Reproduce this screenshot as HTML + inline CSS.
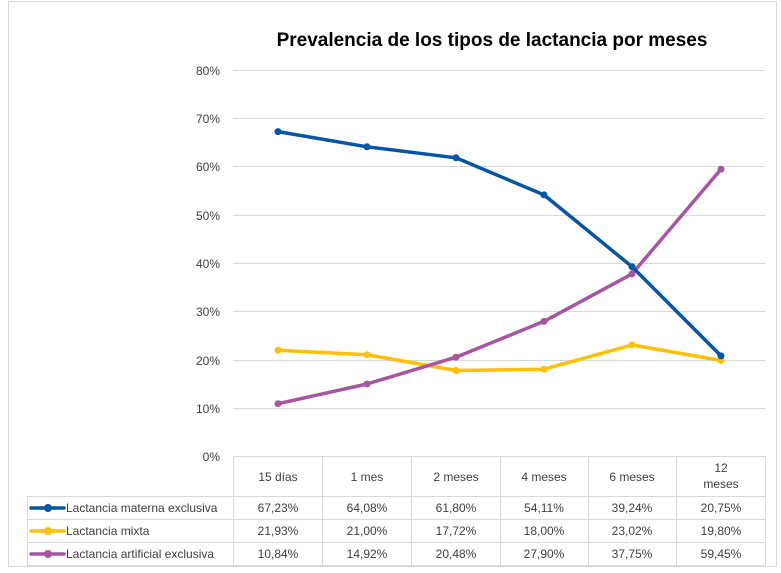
<!DOCTYPE html>
<html><head><meta charset="utf-8"><style>body{margin:0;background:#fff}svg{display:block}text{font-family:"Liberation Sans",sans-serif}</style></head><body>
<svg width="781" height="573" viewBox="0 0 781 573" xmlns="http://www.w3.org/2000/svg">
<rect x="0" y="0" width="781" height="573" fill="#fff"/>
<rect x="8.5" y="1.5" width="768" height="565" fill="none" stroke="#d9d9d9"/>
<text x="492" y="46" font-size="19" font-weight="bold" text-anchor="middle" fill="#000">Prevalencia de los tipos de lactancia por meses</text>
<g stroke="#d9d9d9" stroke-width="1">
<line x1="233" y1="70.5" x2="765" y2="70.5"/><line x1="233" y1="118.5" x2="765" y2="118.5"/><line x1="233" y1="166.5" x2="765" y2="166.5"/><line x1="233" y1="215.5" x2="765" y2="215.5"/><line x1="233" y1="263.5" x2="765" y2="263.5"/><line x1="233" y1="311.5" x2="765" y2="311.5"/><line x1="233" y1="360.5" x2="765" y2="360.5"/><line x1="233" y1="408.5" x2="765" y2="408.5"/>
<line x1="233" y1="456.5" x2="765" y2="456.5"/><line x1="27" y1="496.5" x2="765" y2="496.5"/><line x1="27" y1="519.5" x2="765" y2="519.5"/><line x1="27" y1="542.5" x2="765" y2="542.5"/><line x1="27" y1="565.5" x2="765" y2="565.5"/>
<line x1="27.5" y1="496" x2="27.5" y2="566"/><line x1="233.5" y1="456" x2="233.5" y2="566"/><line x1="322.5" y1="456" x2="322.5" y2="566"/><line x1="411.5" y1="456" x2="411.5" y2="566"/><line x1="500.5" y1="456" x2="500.5" y2="566"/><line x1="588.5" y1="456" x2="588.5" y2="566"/><line x1="676.5" y1="456" x2="676.5" y2="566"/><line x1="765.5" y1="456" x2="765.5" y2="566"/>
</g>
<g font-size="12" fill="#404040" text-anchor="end">
<text x="220" y="75">80%</text><text x="220" y="123">70%</text><text x="220" y="171">60%</text><text x="220" y="220">50%</text><text x="220" y="268">40%</text><text x="220" y="316">30%</text><text x="220" y="365">20%</text><text x="220" y="413">10%</text><text x="220" y="461">0%</text>
</g>
<g font-size="12" fill="#404040" text-anchor="middle">
<text x="278" y="481">15 días</text><text x="367" y="481">1 mes</text><text x="456" y="481">2 meses</text><text x="544" y="481">4 meses</text><text x="632" y="481">6 meses</text><text x="721" y="472">12</text><text x="721" y="488">meses</text>
<text x="278" y="512">67,23%</text><text x="367" y="512">64,08%</text><text x="456" y="512">61,80%</text><text x="544" y="512">54,11%</text><text x="632" y="512">39,24%</text><text x="721" y="512">20,75%</text>
<text x="278" y="535">21,93%</text><text x="367" y="535">21,00%</text><text x="456" y="535">17,72%</text><text x="544" y="535">18,00%</text><text x="632" y="535">23,02%</text><text x="721" y="535">19,80%</text>
<text x="278" y="558">10,84%</text><text x="367" y="558">14,92%</text><text x="456" y="558">20,48%</text><text x="544" y="558">27,90%</text><text x="632" y="558">37,75%</text><text x="721" y="558">59,45%</text>
</g>
<g font-size="12" fill="#404040">
<text x="66" y="512">Lactancia materna exclusiva</text><text x="66" y="535">Lactancia mixta</text><text x="66" y="558">Lactancia artificial exclusiva</text>
</g>
<g stroke-width="3.5" stroke-linecap="round">
<line x1="31" y1="508" x2="64" y2="508" stroke="#0455a4"/><circle cx="48" cy="508" r="4" fill="#0455a4"/>
<line x1="31" y1="531" x2="64" y2="531" stroke="#ffc000"/><circle cx="48" cy="531" r="4" fill="#ffc000"/>
<line x1="31" y1="554" x2="64" y2="554" stroke="#a655a3"/><circle cx="48" cy="554" r="4" fill="#a655a3"/>
</g>
<g fill="none" stroke-width="3.5" stroke-linejoin="round">
<polyline stroke="#ffc000" points="278,350.2 367,354.7 456,370.5 544,369.2 632,344.9 721,360.5"/>
<polyline stroke="#a655a3" points="278,403.7 367,384.0 456,357.2 544,321.4 632,273.9 721,169.2"/>
<polyline stroke="#0455a4" points="278,131.6 367,146.8 456,157.8 544,194.9 632,266.7 721,355.9"/>
</g>
<g fill="#ffc000"><circle cx="278" cy="350.2" r="3.5"/><circle cx="367" cy="354.7" r="3.5"/><circle cx="456" cy="370.5" r="3.5"/><circle cx="544" cy="369.2" r="3.5"/><circle cx="632" cy="344.9" r="3.5"/><circle cx="721" cy="360.5" r="3.5"/></g>
<g fill="#a655a3"><circle cx="278" cy="403.7" r="3.5"/><circle cx="367" cy="384" r="3.5"/><circle cx="456" cy="357.2" r="3.5"/><circle cx="544" cy="321.4" r="3.5"/><circle cx="632" cy="273.9" r="3.5"/><circle cx="721" cy="169.2" r="3.5"/></g>
<g fill="#0455a4"><circle cx="278" cy="131.6" r="3.5"/><circle cx="367" cy="146.8" r="3.5"/><circle cx="456" cy="157.8" r="3.5"/><circle cx="544" cy="194.9" r="3.5"/><circle cx="632" cy="266.7" r="3.5"/><circle cx="721" cy="355.9" r="3.5"/></g>
</svg>
</body></html>
